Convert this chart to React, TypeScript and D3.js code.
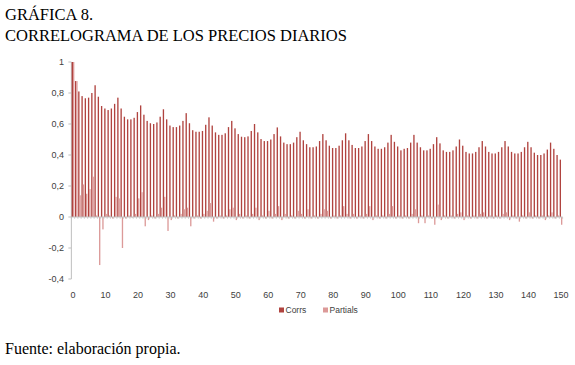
import React from "react";
import * as d3 from "d3";

const corrs = [
  1.0, 0.877, 0.81, 0.78, 0.766, 0.77, 0.8, 0.85, 0.776, 0.716,
  0.7, 0.69, 0.7, 0.73, 0.77, 0.7, 0.647, 0.63, 0.63, 0.64,
  0.677, 0.72, 0.66, 0.62, 0.605, 0.6, 0.61, 0.647, 0.695, 0.63,
  0.59, 0.58, 0.58, 0.59, 0.62, 0.67, 0.605, 0.56, 0.55, 0.55,
  0.555, 0.595, 0.643, 0.59, 0.546, 0.53, 0.53, 0.54, 0.58, 0.62,
  0.572, 0.535, 0.518, 0.515, 0.52, 0.555, 0.6, 0.546, 0.503, 0.49,
  0.49, 0.5, 0.535, 0.578, 0.52, 0.48, 0.47, 0.47, 0.48, 0.515,
  0.55, 0.495, 0.47, 0.45, 0.45, 0.455, 0.49, 0.535, 0.495, 0.46,
  0.445, 0.445, 0.46, 0.495, 0.54, 0.495, 0.465, 0.445, 0.445, 0.455,
  0.49, 0.535, 0.49, 0.455, 0.44, 0.44, 0.45, 0.48, 0.53, 0.485,
  0.455, 0.43, 0.44, 0.445, 0.48, 0.53, 0.48, 0.45, 0.43, 0.43,
  0.44, 0.47, 0.515, 0.475, 0.43, 0.42, 0.42, 0.43, 0.455, 0.5,
  0.46, 0.42, 0.41, 0.41, 0.42, 0.45, 0.49, 0.455, 0.42, 0.41,
  0.41, 0.42, 0.45, 0.49, 0.455, 0.42, 0.41, 0.41, 0.42, 0.45,
  0.485, 0.45, 0.415, 0.4, 0.4, 0.41, 0.435, 0.48, 0.44, 0.4,
  0.37,
];

const partials = [
  1.0, 0.877, 0.14, 0.21, 0.15, 0.18, 0.26, 0.01, -0.31, -0.08,
  0.02, 0.01, -0.01, 0.13, 0.12, -0.2, -0.01, 0.01, 0.0, 0.02,
  0.12, 0.16, -0.06, -0.02, 0.01, -0.01, 0.02, 0.06, 0.13, -0.09,
  -0.02, 0.01, -0.01, 0.02, 0.05, 0.06, -0.06, -0.01, 0.01, -0.01,
  0.02, 0.04, 0.09, -0.03, -0.01, 0.01, -0.01, 0.01, 0.05, 0.06,
  -0.02, 0.02, -0.01, 0.01, -0.01, 0.02, 0.06, -0.02, 0.01, -0.01,
  0.04, -0.01, 0.02, 0.07, -0.02, 0.02, -0.01, 0.01, -0.01, 0.04,
  0.02, -0.01, 0.05, -0.01, 0.01, -0.01, 0.02, 0.05, 0.04, -0.01,
  0.01, -0.01, 0.01, 0.07, 0.02, -0.01, 0.02, -0.01, 0.01, -0.01,
  0.02, 0.07, -0.02, 0.01, -0.01, 0.01, -0.01, 0.02, 0.07, -0.01,
  0.01, -0.01, 0.01, -0.01, 0.02, 0.05, -0.04, 0.01, -0.04, 0.01,
  -0.01, -0.05, 0.08, -0.02, 0.01, -0.01, 0.01, -0.01, 0.02, 0.03,
  -0.02, 0.01, -0.01, 0.01, -0.01, 0.02, 0.03, -0.01, 0.01, -0.01,
  0.01, -0.01, 0.02, 0.03, -0.02, 0.01, -0.01, -0.03, 0.01, -0.01,
  0.03, -0.01, 0.01, -0.01, 0.01, -0.02, 0.01, 0.03, -0.01, 0.01,
  -0.05,
];

const lags = d3.range(corrs.length);
const yTicks = [1, 0.8, 0.6, 0.4, 0.2, 0, -0.2, -0.4];
const xTickLabels = d3.range(0, 151, 10);
const seriesNames = ["Corrs", "Partials"];
const colors = ["#b0433f", "#dc9a99"];

const fmt = (v: number) => String(v).replace(".", ",");

export default function App() {
  const step = (561 - 73) / 150;
  const x = d3
    .scaleBand<number>()
    .domain(lags)
    .range([73 - step / 2, 561 + step / 2]);
  const sub = d3
    .scaleBand<string>()
    .domain(seriesNames)
    .range([0, x.bandwidth()])
    .paddingOuter(0.22);
  const y = d3.scaleLinear().domain([-0.4, 1]).range([279, 62]);

  const series = [corrs, partials];
  const axisColor = "#bfbfbf";
  const labelFont = "'Liberation Sans', Arial, sans-serif";
  const serif = "'Liberation Serif', 'Times New Roman', serif";

  return (
    <div style={{ position: "fixed", left: 0, top: 0 }}>
      <svg width={575} height={365} style={{ display: "block", background: "#fff" }}>
        <text x={5} y={20} fontFamily={serif} fontSize={16.5}>
          GRÁFICA 8.
        </text>
        <text x={5} y={40.5} fontFamily={serif} fontSize={16.5}>
          CORRELOGRAMA DE LOS PRECIOS DIARIOS
        </text>

        {/* eje y */}
        <line x1={x.range()[0]} x2={x.range()[0]} y1={y(1)} y2={y(-0.4)} stroke={axisColor} strokeWidth={1} />
        {yTicks.map((t) => (
          <g key={t}>
            <line x1={x.range()[0] - 3} x2={x.range()[0]} y1={y(t)} y2={y(t)} stroke={axisColor} />
            <text
              x={64}
              y={y(t)}
              dy="0.35em"
              textAnchor="end"
              fontFamily={labelFont}
              fontSize={9}
              fill="#404040"
            >
              {fmt(t)}
            </text>
          </g>
        ))}

        {/* barras */}
        {series.map((vals, si) =>
          vals.map((v, i) => {
            const y0 = y(0);
            const y1 = y(v);
            return (
              <rect
                key={`${si}-${i}`}
                x={(x(i) ?? 0) + (sub(seriesNames[si]) ?? 0)}
                y={Math.min(y0, y1)}
                width={sub.bandwidth()}
                height={Math.max(0.5, Math.abs(y1 - y0))}
                fill={colors[si]}
              />
            );
          })
        )}

        {/* eje x en cero */}
        <line x1={x.range()[0]} x2={x.range()[1]} y1={y(0)} y2={y(0)} stroke={axisColor} strokeWidth={1} />
        {lags.concat([lags.length]).map((i) => {
          const xx = x.range()[0] + i * x.step();
          return <line key={i} x1={xx} x2={xx} y1={y(0)} y2={y(0) + 2} stroke={axisColor} strokeWidth={0.6} />;
        })}
        {xTickLabels.map((t) => (
          <text
            key={t}
            x={(x(t) ?? 0) + x.bandwidth() / 2}
            y={295}
            dy="0.35em"
            textAnchor="middle"
            fontFamily={labelFont}
            fontSize={9}
            fill="#404040"
          >
            {t}
          </text>
        ))}

        {/* leyenda */}
        {seriesNames.map((name, i) => {
          const lx = i === 0 ? 279 : 323;
          return (
            <g key={name}>
              <rect x={lx} y={307.5} width={5} height={5} fill={colors[i]} />
              <text x={lx + 6.5} y={310.5} dy="0.35em" fontFamily={labelFont} fontSize={8.5} fill="#404040">
                {name}
              </text>
            </g>
          );
        })}

        <text x={5} y={354} fontFamily={serif} fontSize={16}>
          Fuente: elaboración propia.
        </text>
      </svg>
    </div>
  );
}
